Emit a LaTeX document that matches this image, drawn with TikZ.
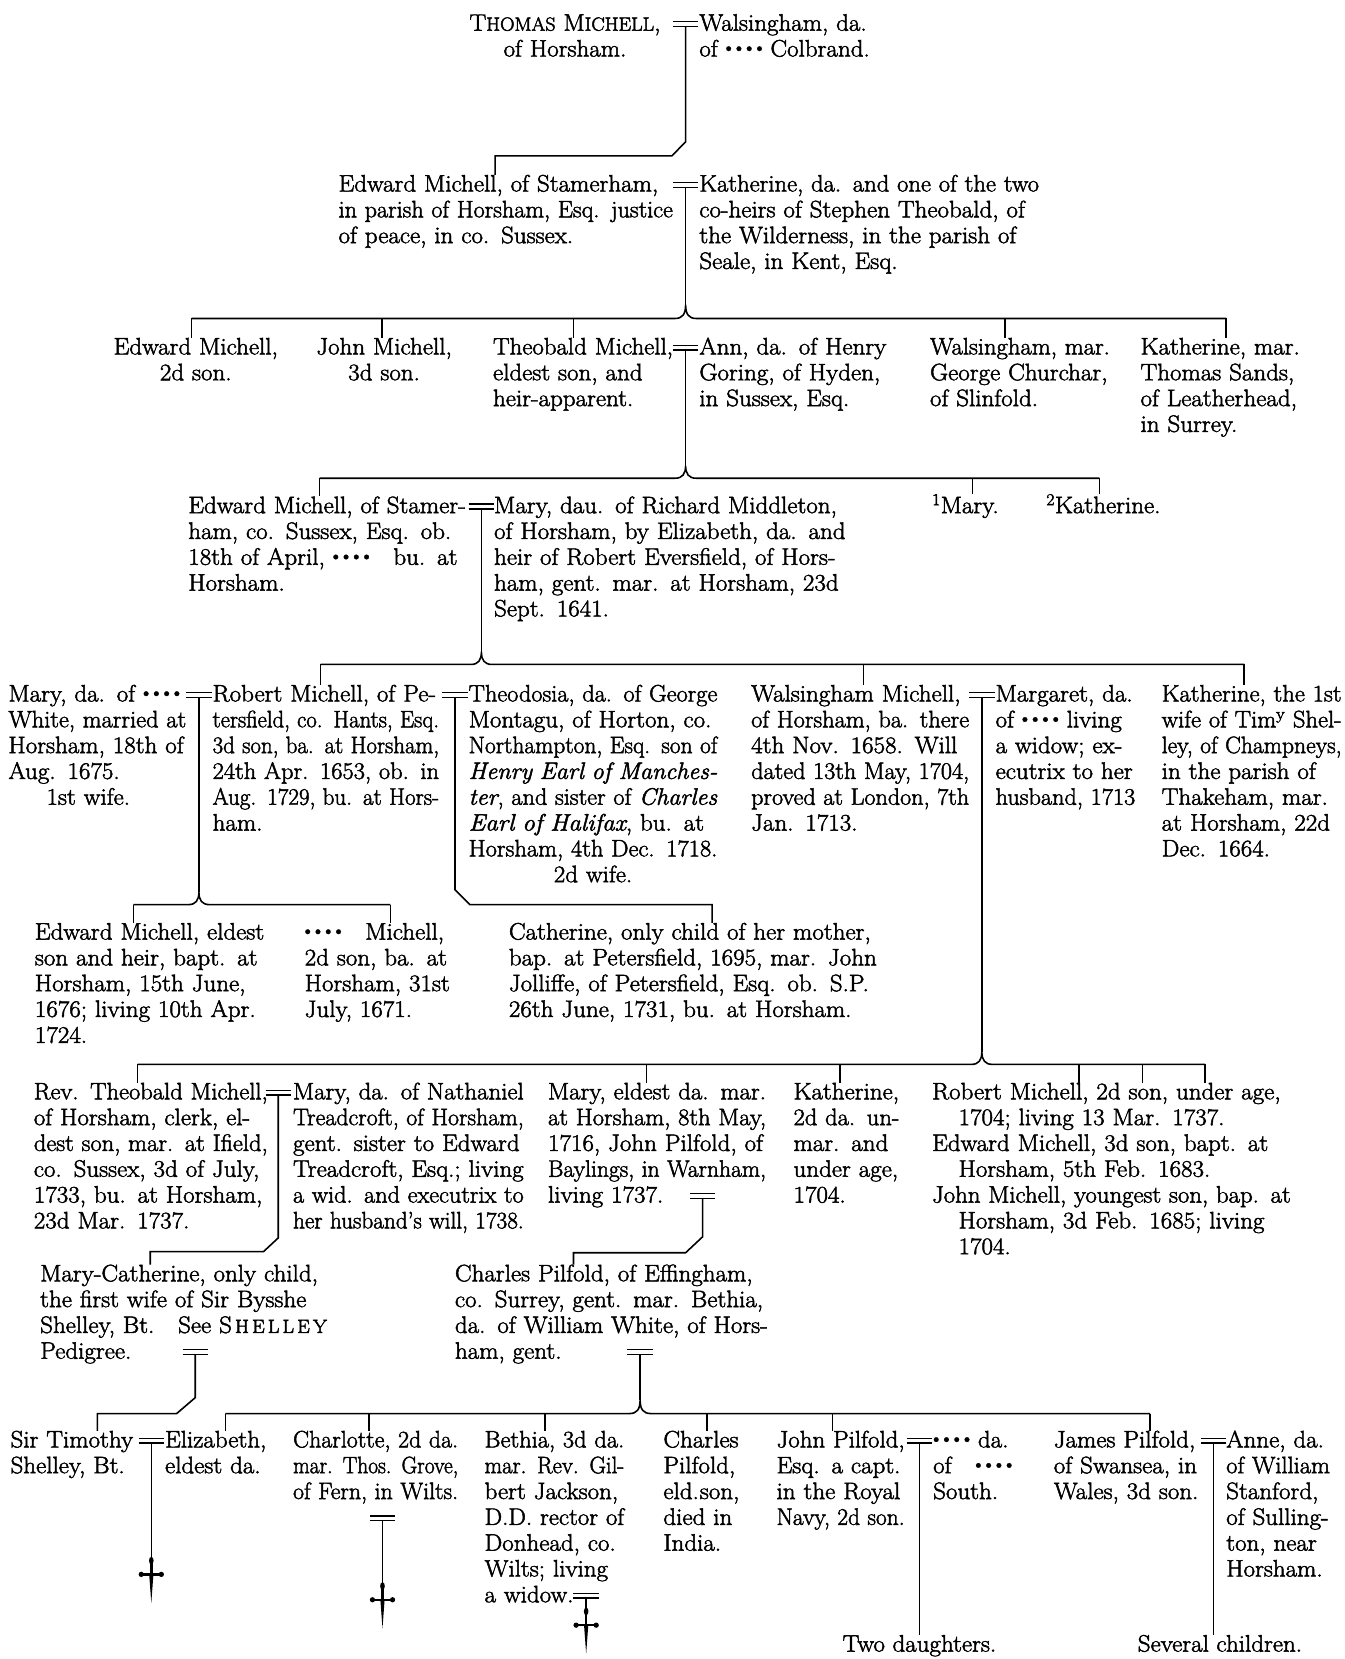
\documentclass[tikz,border=0pt]{standalone}
\usepackage{fontspec}
\setmainfont{Latin Modern Roman}[FakeStretch=1.05]
\usepackage{graphicx}
\newcommand\heavy{\special{pdf:literal direct 2 Tr 0.45 w}}
\newcommand\fs{\fontsize{22.5}{24.4}\selectfont\heavy}
\newcommand\Jbox[2]{\sbox0{#2}\ifdim\wd0>#1\relax\makebox[#1][l]{\scalebox{\fpeval{\the\dimexpr#1\relax/\the\wd0}}[1]{\usebox0}}\else\makebox[#1][s]{#2}\fi}
\newcommand\J[1]{\Jbox{\linewidth}{#1}\\}
\newcommand\JL[1]{\Jbox{\linewidth}{#1}}
\newcommand\JI[1]{\hspace*{25pt}\Jbox{\dimexpr\linewidth-25pt\relax}{#1}\\}
\newcommand\Ind{\hspace*{25pt}}
\newcommand\dt{\raisebox{0.2em}{\scalebox{0.55}{$\bullet$}}}
\newcommand\dts{\dt\kern4pt\dt\kern4pt\dt\kern4pt\dt}
\newcommand\smc[1]{{\fontsize{18}{24.4}\selectfont #1}}
\tikzset{
  txt/.style={anchor=base west, inner sep=0pt, outer sep=0pt, align=left, font=\fs},
  ctr/.style={anchor=base west, inner sep=0pt, outer sep=0pt, align=center, font=\fs},
  free/.style={anchor=base, inner sep=0pt, outer sep=0pt, font=\fs},
  ln/.style={line width=1.5pt, line join=miter},
  eqbar/.style={line width=1.4pt},
}
\newcommand\marr[3]{%
  \draw[eqbar] ({#2-12},{#3-8.5}) -- ({#2+12},{#3-8.5});
  \draw[eqbar] ({#2-12},{#3-4}) -- ({#2+12},{#3-4});
  \coordinate (#1) at ({#2},{#3-4});}
\newcommand\dagg[2]{%
  \fill ({#1},{#2-13}) ellipse (2.2 and 3.6);
  \draw[line width=2.4pt] ({#1},{#2-13}) -- ({#1},{#2});
  \fill ({#1-2},{#2}) -- ({#1},{#2+27}) -- ({#1+2},{#2}) -- cycle;
  \draw[line width=2.2pt] ({#1-9},{#2}) -- ({#1+9},{#2});
  \fill ({#1-9.5},{#2}) circle (2.5);
  \fill ({#1+9.5},{#2}) circle (2.5);}
\begin{document}
\begin{tikzpicture}[x=1pt,y=-1pt]
\fill[white] (0,0) rectangle (1271,1568);
\useasboundingbox (0,0) rectangle (1271,1568);

% ---------------- Row 0
\node[ctr, text width=200] (thomas) at (434,29) {T\smc{HOMAS}\ M\smc{ICHELL},\\of Horsham.};
\marr{m0}{648}{29}
\node[txt, text width=180] (wals0) at (661,29) {Walsingham, da.\\of \dts\ Colbrand.};

% ---------------- Row 1
\node[txt, text width=316] (edw1) at (320,181) {\J{Edward Michell, of Stamerham,}\J{in parish of Horsham, Esq. justice}of peace, in co. Sussex.};
\marr{m1}{648}{181}
\node[txt, text width=321] (kat1) at (661,181) {\J{Katherine, da. and one of the two}\J{co-heirs of Stephen Theobald, of}\J{the Wilderness, in the parish of}Seale, in Kent, Esq.};
\coordinate (j0a) at (648,134);
\coordinate (j0b) at (635,147.4);
\coordinate (j0c) at (468,147.4);
\draw[ln] (m0) -- (j0a) -- (j0b) -- (j0c) -- (j0c |- edw1.north);

% ---------------- Row 2
\node[ctr, text width=160] (edw2) at (105,335) {Edward Michell,\\2d son.};
\node[ctr, text width=136] (john2) at (295,335) {John Michell,\\3d son.};
\node[txt, text width=170] (theo2) at (466,335) {\J{Theobald Michell,}\J{eldest son, and}heir-apparent.};
\marr{m2}{648}{335}
\node[txt, text width=185] (ann2) at (661,335) {\J{Ann, da. of Henry}\J{Goring, of Hyden,}in Sussex, Esq.};
\node[txt, text width=170] (wal2) at (879,335) {\J{Walsingham, mar.}\J{George Churchar,}of Slinfold.};
\node[txt, text width=152] (kat2) at (1078,335) {\J{Katherine, mar.}\J{Thomas Sands,}\J{of Leatherhead,}in Surrey.};
\coordinate (n1) at (648,288);
\draw[ln] (m1) -- (n1);
\draw[ln] (181,301) -- (638,301) .. controls (645,301) and (648,297) .. (n1) .. controls (648,297) and (651,301) .. (658,301) -- (1159,301);
\foreach \x/\n in {181/edw2,361/john2,542/theo2,950/wal2,1159/kat2}
  \draw[ln] (\x,301) -- (\x,301 |- \n.north);

% ---------------- Row 3
\node[txt, text width=266] (edw3) at (178,485) {\J{Edward Michell, of Stamer-}\J{ham, co. Sussex, Esq. ob.}\J{18th of April, \dts\quad bu. at}Horsham.};
\marr{m3}{455}{485}
\node[txt, text width=339] (mary3) at (467,485) {\J{Mary, dau. of Richard Middleton,}\J{of Horsham, by Elizabeth, da. and}\J{heir of Robert Eversfield, of Hors-}\J{ham, gent. mar. at Horsham, 23d}Sept. 1641.};
\node[txt, text width=80] (mary3b) at (881,485) {\textsuperscript{1}Mary.};
\node[txt, text width=120] (kat3) at (989,485) {\textsuperscript{2}Katherine.};
\coordinate (n2) at (648,440);
\draw[ln] (m2) -- (n2);
\draw[ln] (302,452) -- (638,452) .. controls (645,452) and (648,448) .. (n2) .. controls (648,448) and (651,452) .. (658,452) -- (1039,452);
\foreach \x/\n in {302/edw3,919/mary3b,1039/kat3}
  \draw[ln] (\x,452) -- (\x,452 |- \n.north);

% ---------------- Row 4
\node[txt, text width=168] (mary4) at (8,663) {\J{Mary, da. of \dts}\J{White, married at}\J{Horsham, 18th of}Aug. 1675.\\\hspace*{36pt}1st wife.};
\marr{m4a}{188}{663}
\node[txt, text width=214] (rob4) at (201,663) {\J{Robert Michell, of Pe-}\J{tersfield, co. Hants, Esq.}\J{3d son, ba. at Horsham,}\J{24th Apr. 1653, ob. in}\J{Aug. 1729, bu. at Hors-}ham.};
\marr{m4b}{430}{663}
\node[txt, text width=235] (theo4) at (443,663) {\J{Theodosia, da. of George}\J{Montagu, of Horton, co.}\J{Northampton, Esq. son of}\J{\textit{Henry Earl of Manches-}}\J{\textit{ter}, and sister of \textit{Charles}}\J{\textit{Earl of Halifax}, bu. at}\J{Horsham, 4th Dec. 1718.}\makebox[\linewidth]{2d wife.}};
\node[txt, text width=206] (wal4) at (710,663) {\J{Walsingham Michell,}\J{of Horsham, ba. there}\J{4th Nov. 1658. Will}\J{dated 13th May, 1704,}\J{proved at London, 7th}Jan. 1713.};
\marr{m4c}{928}{663}
\node[txt, text width=132] (mar4) at (941,663) {\J{Margaret, da.}\J{of \dts\ living}\J{a widow; ex-}\J{ecutrix to her}\JL{husband, 1713}};
\node[txt, text width=170] (kat4) at (1098,663) {\J{Katherine, the 1st}\J{wife of Tim\textsuperscript{y} Shel-}\J{ley, of Champneys,}\J{in the parish of}\J{Thakeham, mar.}\J{at Horsham, 22d}Dec. 1664.};
\coordinate (n3) at (455,616);
\draw[ln] (m3) -- (n3);
\draw[ln] (303,628) -- (445,628) .. controls (452,628) and (455,624) .. (n3) .. controls (455,624) and (458,628) .. (465,628) -- (1176,628);
\foreach \x/\n in {303/rob4,816/wal4,1176/kat4}
  \draw[ln] (\x,628) -- (\x,628 |- \n.north);

% ---------------- Row 5
\node[txt, text width=219] (edw5) at (33,888) {\J{Edward Michell, eldest}\J{son and heir, bapt. at}\J{Horsham, 15th June,}\J{1676; living 10th Apr.}1724.};
\node[txt, text width=146] (mic5) at (288,888) {\J{\dts\quad Michell,}\J{2d son, ba. at}\J{Horsham, 31st}July, 1671.};
\node[txt, text width=365] (cat5) at (481,888) {\J{Catherine, only child of her mother,}\J{bap. at Petersfield, 1695, mar. John}\J{Jolliffe, of Petersfield, Esq. ob. S.P.}26th June, 1731, bu. at Horsham.};
\coordinate (n4) at (188,843);
\draw[ln] (m4a) -- (n4);
\draw[ln] (126,855) -- (178,855) .. controls (185,855) and (188,851) .. (n4) .. controls (188,851) and (191,855) .. (198,855) -- (369,855);
\foreach \x/\n in {126/edw5,369/mic5}
  \draw[ln] (\x,855) -- (\x,855 |- \n.north);
\coordinate (j5a) at (430,841);
\coordinate (j5b) at (444,855);
\coordinate (j5c) at (673,855);
\draw[ln] (m4b) -- (j5a) -- (j5b) -- (j5c) -- (j5c |- cat5.north);

% ---------------- Row 6
\node[txt, text width=221] (theo6) at (32,1039) {\J{Rev. Theobald Michell,}\J{of Horsham, clerk, el-}\J{dest son, mar. at Ifield,}\J{co. Sussex, 3d of July,}\J{1733, bu. at Horsham,}23d Mar. 1737.};
\marr{m6a}{263}{1039}
\node[txt, text width=218] (mary6) at (277,1039) {\J{Mary, da. of Nathaniel}\J{Treadcroft, of Horsham,}\J{gent. sister to Edward}\J{Treadcroft, Esq.; living}\J{a wid. and executrix to}\JL{her husband's will, 1738.}};
\node[txt, text width=206] (mary6b) at (518,1039) {\J{Mary, eldest da. mar.}\J{at Horsham, 8th May,}\J{1716, John Pilfold, of}\J{Baylings, in Warnham,}living 1737.};
\marr{m6b}{664}{1136.6}
\node[txt, text width=100] (kat6) at (750,1039) {\J{Katherine,}\J{2d da. un-}\J{mar. and}\J{under age,}1704.};
\node[txt, text width=339] (sons6) at (881,1039) {\J{Robert Michell, 2d son, under age,}\Ind 1704; living 13 Mar. 1737.\\\J{Edward Michell, 3d son, bapt. at}\Ind Horsham, 5th Feb. 1683.\\\J{John Michell, youngest son, bap. at}\JI{Horsham, 3d Feb. 1685; living}\Ind 1704.};
\coordinate (n5) at (928,994);
\draw[ln] (m4c) -- (n5);
\draw[ln] (130,1006) -- (918,1006) .. controls (925,1006) and (928,1002) .. (n5) .. controls (928,1002) and (931,1006) .. (938,1006) -- (1139,1006);
\foreach \x/\n in {130/theo6,611/mary6b,794/kat6,1020/sons6,1080/sons6,1139/sons6}
  \draw[ln] (\x,1006) -- (\x,1006 |- \n.north);

% ---------------- Row 7
\node[txt, text width=279] (mc7) at (38,1211) {\J{Mary-Catherine, only child,}\J{the first wife of Sir Bysshe}\J{Shelley, Bt.\quad See S\smc{\,H\,E\,L\,L\,E\,Y}}Pedigree.};
\marr{m7a}{184.5}{1284.2}
\node[txt, text width=305] (ch7) at (430,1211) {\J{Charles Pilfold, of Effingham,}\J{co. Surrey, gent. mar. Bethia,}\J{da. of William White, of Hors-}ham, gent.};
\marr{m7b}{605}{1284.2}
\coordinate (j6a) at (263,1170);
\coordinate (j6b) at (249,1183);
\coordinate (j6c) at (142,1183);
\draw[ln] (m6a) -- (j6a) -- (j6b) -- (j6c) -- (j6c |- mc7.north);
\coordinate (j6d) at (664,1169);
\coordinate (j6e) at (648,1184);
\coordinate (j6f) at (542,1184);
\draw[ln] (m6b) -- (j6d) -- (j6e) -- (j6f) -- (j6f |- ch7.north);

% ---------------- Row 8
\node[txt, text width=122] (tim8) at (10,1368) {Sir Timothy\\Shelley, Bt.};
\marr{m8a}{143}{1368}
\node[txt, text width=95] (eli8) at (156,1368) {Elizabeth,\\eldest da.};
\node[txt, text width=156] (cha8) at (277,1368) {\J{Charlotte, 2d da.}\J{mar. Thos. Grove,}\JL{of Fern, in Wilts.}};
\marr{m8c}{361.5}{1441.2}
\node[txt, text width=132] (bet8) at (458,1368) {\J{Bethia, 3d da.}\J{mar. Rev. Gil-}\J{bert Jackson,}\J{D.D. rector of}\J{Donhead, co.}\J{Wilts; living}a widow.};
\marr{m8d}{554}{1514.4}
\node[txt, text width=74] (chp8) at (627,1368) {Charles\\Pilfold,\\\JL{eld.\kern1pt son,}\\\J{died in}India.};
\node[txt, text width=121] (joh8) at (734,1368) {\J{John Pilfold,}\J{Esq. a capt.}\J{in the Royal}\JL{Navy, 2d son.}};
\marr{m8e}{869}{1368}
\node[txt, text width=83] (sou8) at (882,1368) {\J{\dts\ da.}\J{of\quad\dts}South.};
\node[txt, text width=138] (jam8) at (996,1368) {\J{James Pilfold,}\J{of Swansea, in}Wales, 3d son.};
\marr{m8f}{1147}{1368}
\node[txt, text width=98] (ann8) at (1159,1368) {\J{Anne, da.}\J{of William}Stanford,\\\J{of Sulling-}\J{ton, near}Horsham.};
\node[free] (two) at (869,1561) {Two daughters.};
\node[free] (sev) at (1153,1561) {Several children.};

\coordinate (j7a) at (184.5,1321);
\coordinate (j7b) at (167,1336);
\coordinate (j7c) at (92,1336);
\draw[ln] (m7a) -- (j7a) -- (j7b) -- (j7c) -- (j7c |- tim8.north);
\coordinate (n7) at (605,1323);
\draw[ln] (m7b) -- (n7);
\draw[ln] (213,1336) -- (595,1336) .. controls (602,1336) and (605,1332) .. (n7) .. controls (605,1332) and (608,1336) .. (615,1336) -- (1087,1336);
\foreach \x/\n in {213/eli8,349/cha8,515/bet8,668/chp8,787/joh8,1087/jam8}
  \draw[ln] (\x,1336) -- (\x,1336 |- \n.north);

\coordinate (d1) at (143,1473);
\draw[ln] (m8a) -- (d1);
\dagg{143}{1488}
\coordinate (d2) at (361.5,1497);
\draw[ln] (m8c) -- (d2);
\dagg{361.5}{1512}
\coordinate (d3) at (554,1521);
\draw[ln] (m8d) -- (d3);
\dagg{554}{1536}
\draw[ln] (m8e) -- (m8e |- two.north);
\draw[ln] (m8f) -- (m8f |- sev.north);
\end{tikzpicture}
\end{document}
